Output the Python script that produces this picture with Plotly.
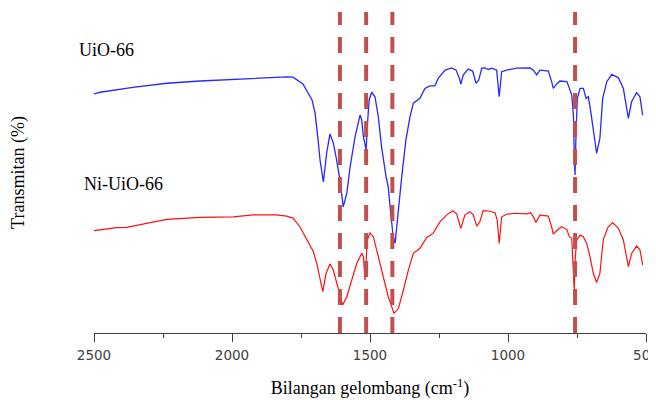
import plotly.graph_objects as go

# Wavenumber (cm-1) and transmittance (arbitrary %)
uio_wn = [2500, 2478, 2359, 2236, 2116, 1996, 1873, 1801, 1779, 1743, 1710, 1699, 1688, 1681, 1669,
          1657, 1645, 1633, 1621, 1609, 1597, 1584, 1572, 1554, 1536, 1530, 1524, 1514, 1510, 1503,
          1494, 1482, 1470, 1458, 1442, 1434, 1425, 1416, 1409, 1401, 1385, 1370, 1355, 1343, 1319,
          1301, 1283, 1265, 1253, 1228, 1204, 1188, 1176, 1171, 1162, 1144, 1128, 1116, 1106, 1095,
          1083, 1071, 1059, 1041, 1032, 1023, 1005, 969, 920, 908, 896, 884, 854, 842, 836,
          824, 812, 787, 782, 769, 763, 760, 757, 754, 749, 739, 727, 717, 709, 700,
          691, 679, 667, 657, 642, 624, 600, 582, 570, 564, 552, 534, 522, 512]
uio_t = [74.5, 75.0, 76.5, 77.8, 78.5, 79.0, 79.7, 79.8, 79.7, 77.6, 72.6, 68.5, 60.1, 53.9, 47.1,
         56.1, 62.0, 59.2, 53.9, 47.7, 39.3, 43.6, 51.8, 61.2, 67.9, 66.4, 61.2, 57.0, 64.3, 72.6,
         75.0, 73.6, 67.4, 58.0, 48.7, 45.6, 37.4, 30.0, 28.0, 35.2, 48.7, 60.1, 67.4, 71.6, 73.1,
         76.2, 77.0, 77.0, 79.3, 81.9, 82.6, 81.9, 79.3, 77.5, 80.4, 82.2, 81.6, 77.8, 78.8, 82.5,
         82.6, 82.1, 82.5, 81.9, 73.6, 81.4, 81.9, 82.5, 82.6, 81.9, 80.4, 81.9, 81.6, 78.3, 76.2,
         77.5, 78.5, 78.3, 77.3, 74.1, 67.9, 55.5, 49.2, 60.7, 73.1, 76.2, 76.2, 73.1, 73.6, 68.9,
         62.7, 56.0, 60.7, 73.1, 78.3, 80.6, 79.5, 76.2, 70.0, 66.9, 72.1, 74.9, 73.6, 67.9]

ni_wn = [2500, 2418, 2382, 2322, 2237, 2116, 1996, 1924, 1838, 1802, 1779, 1754, 1729, 1705, 1693,
         1681, 1671, 1659, 1645, 1633, 1621, 1609, 1599, 1584, 1566, 1548, 1530, 1524, 1518, 1510,
         1500, 1488, 1470, 1452, 1434, 1413, 1397, 1379, 1361, 1343, 1319, 1295, 1271, 1246, 1222,
         1200, 1186, 1171, 1156, 1138, 1126, 1113, 1102, 1090, 1071, 1047, 1039, 1032, 1023, 1005,
         975, 932, 918, 908, 899, 884, 854, 842, 836, 821, 806, 787, 778, 769, 763,
         760, 756, 751, 739, 727, 715, 703, 691, 679, 667, 655, 637, 621, 600, 582,
         564, 552, 534, 522, 512]
ni_t = [31.9, 32.8, 32.9, 34.0, 35.4, 36.0, 36.2, 36.8, 36.8, 36.4, 35.8, 33.1, 29.0, 25.3, 21.7,
        16.5, 12.9, 18.6, 21.5, 19.6, 15.5, 11.3, 8.7, 11.3, 16.5, 21.7, 24.8, 23.8, 16.5, 29.0,
        31.2, 30.0, 23.8, 17.5, 11.3, 6.1, 7.7, 13.4, 19.6, 24.8, 26.4, 29.7, 31.1, 34.7, 36.8,
        38.1, 37.1, 32.6, 36.8, 37.8, 36.8, 33.3, 34.7, 38.1, 38.0, 37.5, 35.2, 27.9, 36.2, 37.0,
        37.3, 37.1, 37.5, 36.2, 34.4, 36.8, 36.4, 33.1, 30.8, 32.1, 33.1, 32.3, 30.0, 29.5, 20.7,
        13.4, 23.8, 29.0, 30.5, 30.0, 27.9, 23.8, 18.6, 15.7, 18.6, 29.0, 33.1, 34.4, 32.6, 29.0,
        20.7, 24.8, 27.1, 25.9, 21.2]

marker_wn = [1609, 1514, 1419, 757]
series_names = ["UiO-66", "Ni-UiO-66"]
x_ticks = [2500, 2000, 1500, 1000, 500]

fig = go.Figure()
fig.add_trace(go.Scatter(x=uio_wn, y=uio_t, mode="lines", name=series_names[0],
                         line=dict(color="#2828ff", width=1.3)))
fig.add_trace(go.Scatter(x=ni_wn, y=ni_t, mode="lines", name=series_names[1],
                         line=dict(color="#ff1010", width=1.2)))

for wn in marker_wn:
    fig.add_shape(type="line", xref="x", yref="paper", x0=wn, x1=wn, y0=0, y1=1,
                  line=dict(color="#c0504d", width=4, dash="16px,12px"))

serif = "Liberation Serif, Times New Roman, serif"
fig.add_annotation(xref="paper", yref="paper", x=-0.031, y=0.882, text=series_names[0],
                   showarrow=False, xanchor="left", yanchor="middle",
                   font=dict(family=serif, size=18, color="#000000"))
fig.add_annotation(xref="paper", yref="paper", x=-0.0216, y=0.464, text=series_names[1],
                   showarrow=False, xanchor="left", yanchor="middle",
                   font=dict(family=serif, size=18, color="#000000"))

# The page body adds an 8 px offset, so the figure is 8 px smaller on each side.
fig.update_layout(
    width=648, height=392,
    margin=dict(l=86, r=10, t=4, b=67),
    paper_bgcolor="white", plot_bgcolor="white",
    showlegend=False,
    xaxis=dict(
        range=[2500, 500], tickvals=x_ticks, ticktext=[str(v) for v in x_ticks],
        automargin=False, ticklabeloverflow="allow",
        showgrid=False, zeroline=False,
        showline=True, linecolor="#404040", linewidth=1.3,
        ticks="outside", ticklen=8, tickwidth=1.3, tickcolor="#404040",
        minor=dict(ticks="outside", ticklen=4, tickwidth=1.3, tickcolor="#404040", dtick=250),
        tickfont=dict(family="DejaVu Sans", size=13.5, color="#404040"),
        ticklabelstandoff=2,
        title=dict(text="Bilangan gelombang (cm<sup>-1</sup>)",
                   font=dict(family=serif, size=18, color="#000000"), standoff=19),
    ),
    yaxis=dict(
        range=[0, 100], showgrid=False, zeroline=False, showline=False,
        automargin=False,
        showticklabels=False, ticks="",
        title=dict(text="Transmitan (%)", font=dict(family=serif, size=18, color="#000000"),
                   standoff=67),
    ),
)

fig.write_html("out.html")
